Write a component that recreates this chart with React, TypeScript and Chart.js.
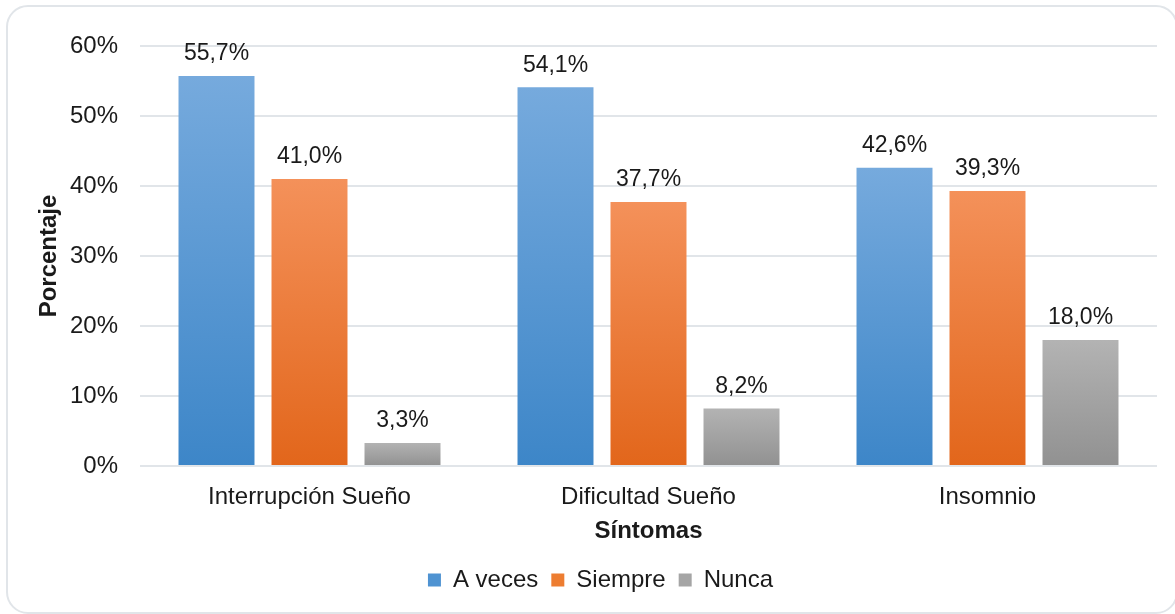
import React, { useEffect, useRef } from "react";
import { Chart, registerables } from "chart.js";

Chart.register(...registerables);

const categories = ["Interrupción Sueño", "Dificultad Sueño", "Insomnio"];
const seriesNames = ["A veces", "Siempre", "Nunca"];
const aVeces = [55.7, 54.1, 42.6];
const siempre = [41.0, 37.7, 39.3];
const nunca = [3.3, 8.2, 18.0];
const yTicks = [0, 10, 20, 30, 40, 50, 60];

const gradients = [
  ["#76aadd", "#3d86c8"],
  ["#f4915a", "#e2661b"],
  ["#b3b3b3", "#919191"],
];
const legendColors = ["#4f93d2", "#ed7d31", "#a5a5a5"];

const FONT = "'Liberation Sans', Arial, sans-serif";
const TEXT = "#1a1a1a";
const LEFT_PAD = 44;

function makeBg(idx: number) {
  return (ctx: any) => {
    const chart = ctx.chart;
    const y = chart.scales && chart.scales.y;
    if (!y || ctx.type !== "data" || ctx.raw == null) return legendColors[idx];
    const top = y.getPixelForValue(ctx.raw);
    const bottom = y.getPixelForValue(0);
    if (!isFinite(top) || !isFinite(bottom) || top === bottom) return legendColors[idx];
    const g = chart.ctx.createLinearGradient(0, top, 0, bottom);
    g.addColorStop(0, gradients[idx][0]);
    g.addColorStop(1, gradients[idx][1]);
    return g;
  };
}

const labelPlugin = {
  id: "valueLabels",
  afterDatasetsDraw(chart: any) {
    const c = chart.ctx;
    c.save();
    c.font = `23px ${FONT}`;
    c.fillStyle = TEXT;
    c.textAlign = "center";
    c.textBaseline = "middle";
    chart.data.datasets.forEach((ds: any, i: number) => {
      const meta = chart.getDatasetMeta(i);
      meta.data.forEach((bar: any, j: number) => {
        const v = ds.data[j] as number;
        const txt = v.toFixed(1).replace(".", ",") + "%";
        c.fillText(txt, bar.x, bar.y - 22);
      });
    });
    c.restore();
  },
};

export default function App() {
  const ref = useRef<HTMLCanvasElement>(null);
  useEffect(() => {
    if (!ref.current) return;
    const series = [aVeces, siempre, nunca];
    const chart = new Chart(ref.current, {
      type: "bar",
      data: {
        labels: categories,
        datasets: series.map((d, i) => ({
          label: seriesNames[i],
          data: d,
          backgroundColor: makeBg(i),
          borderWidth: 0,
          categoryPercentage: 0.823,
          barPercentage: 0.817,
        })),
      },
      options: {
        responsive: false,
        animation: false,
        events: [],
        layout: { padding: { left: LEFT_PAD, right: 18, top: 46, bottom: 12 } },
        plugins: {
          tooltip: { enabled: false },
          legend: {
            position: "bottom",
            labels: {
              font: { family: FONT, size: 24 },
              color: TEXT,
              boxWidth: 13,
              boxHeight: 13,
              padding: 13,
              generateLabels: () =>
                seriesNames.map((n, i) => ({
                  text: n,
                  fillStyle: legendColors[i],
                  strokeStyle: legendColors[i],
                  lineWidth: 0,
                  hidden: false,
                  datasetIndex: i,
                  fontColor: TEXT,
                })),
            },
          },
        },
        scales: {
          x: {
            grid: { display: false },
            border: { display: false },
            ticks: { font: { family: FONT, size: 24 }, color: TEXT, padding: 9 },
            title: {
              display: true,
              text: "Síntomas",
              font: { family: FONT, size: 24, weight: "bold" },
              color: TEXT,
              padding: { top: 0, bottom: 9 },
            },
            afterFit: (s: any) => {
              s.height = 89;
            },
          },
          y: {
            min: 0,
            max: 60,
            afterBuildTicks: (s: any) => {
              s.ticks = yTicks.map((v) => ({ value: v }));
            },
            grid: { color: "#e1e5e9", lineWidth: 2, drawTicks: false },
            border: { display: false },
            ticks: {
              font: { family: FONT, size: 24 },
              color: TEXT,
              padding: 22,
              callback: (v: any) => v + "%",
            },
            title: {
              display: true,
              text: "Porcentaje",
              font: { family: FONT, size: 24, weight: "bold" },
              color: TEXT,
              padding: { top: 35 - LEFT_PAD, bottom: 0 },
            },
            afterFit: (s: any) => {
              s.width = 140 - LEFT_PAD;
            },
          },
        },
      },
      plugins: [labelPlugin],
    });
    return () => chart.destroy();
  }, []);
  return (
    <div style={{ position: "fixed", left: 0, top: 0, width: 1175, height: 614, background: "#fff", overflow: "hidden" }}>
      <div
        style={{
          position: "absolute",
          left: 6,
          top: 5,
          width: 1172,
          height: 609,
          boxSizing: "border-box",
          border: "2px solid #e1e5e9",
          borderRadius: 22,
        }}
      />
      <canvas ref={ref} width={1175} height={614} style={{ position: "absolute", left: 0, top: 0, width: 1175, height: 614 }} />
    </div>
  );
}
